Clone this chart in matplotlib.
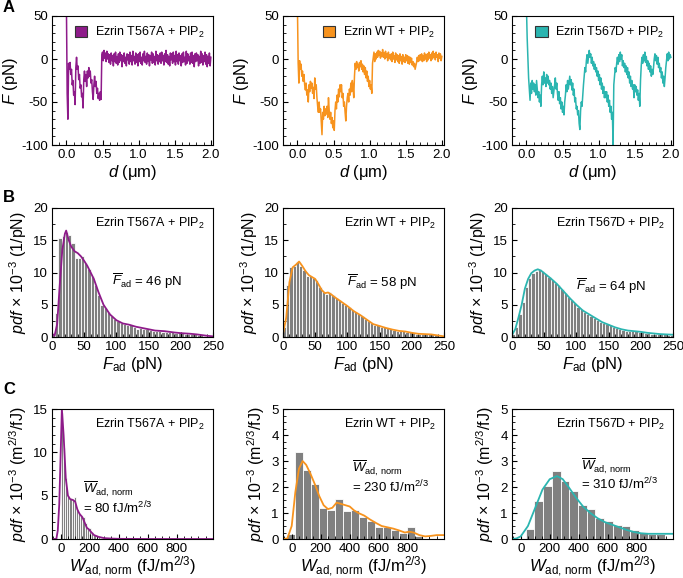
import numpy as np
import matplotlib
matplotlib.use("Agg")
import matplotlib.pyplot as plt
from matplotlib.patches import Patch
from matplotlib.ticker import MultipleLocator

plt.rcParams['font.family'] = ['Liberation Sans', 'DejaVu Sans']
plt.rcParams['mathtext.fontset'] = 'custom'
plt.rcParams['mathtext.rm'] = 'Liberation Sans'
plt.rcParams['mathtext.it'] = 'Liberation Sans:italic'
plt.rcParams['mathtext.bf'] = 'Liberation Sans:bold'
plt.rcParams['mathtext.fallback'] = 'cm'
plt.rcParams['axes.unicode_minus'] = False

# ---------------- data ----------------
names = ["Ezrin T567A + PIP$_2$", "Ezrin WT + PIP$_2$", "Ezrin T567D + PIP$_2$"]
colors = ["#8E1B8A", "#F7931E", "#2BB5B0"]

# Panel A: force traces sampled every 0.01 um from 0 to 2.0 um
d_um = np.linspace(0, 2.0, 201)
force_T567A = [
    60, -40, -70, -5, -12, -4, -18, -12, -30, -25,
    -42, -38, -53, -10, 2, -12, -8, -24, -18, -34,
    -30, -44, -40, -57, -24, -14, -26, -18, -32, -14,
    -22, -10, -20, -14, -28, -24, -38, -47, -30, -20,
    -32, -26, -40, -34, -46, -40, -48, -38, -47, 5,
    8, -2, 10, 1, 7, -3, 9, 0, 6, -4,
    5, -6, 7, -2, 4, -8, 6, -3, 8, -5,
    3, -7, 6, -4, 8, -2, 5, -9, 4, -3,
    7, -5, 2, -8, 6, -1, 5, -6, 8, -3,
    4, -7, 9, -2, 3, -6, 7, -4, 5, -8,
    6, -3, 8, -5, 2, -7, 6, -2, 9, -4,
    3, -6, 7, -3, 5, -8, 4, -1, 8, -5,
    6, -4, 3, -7, 9, -2, 5, -6, 4, -3,
    7, -5, 8, -2, 4, -7, 6, -3, 10, -4,
    5, -6, 3, -8, 7, -1, 6, -5, 8, -3,
    4, -7, 9, -3, 5, -6, 7, -2, 4, -8,
    6, -4, 8, -3, 2, -7, 9, -5, 6, -2,
    3, -6, 7, -4, 8, -5, 4, -9, 6, -3,
    7, -2, 5, -8, 3, -5, 9, -4, 6, -7,
    4, -3, 8, -6, 5, -9, 3, -5, 7, -8,
    2]
force_WT = [
    60, -5, -28, -2, -12, -6, -20, -14, -26, -18,
    -30, -36, -28, -42, -36, -50, -30, -38, -26, -34,
    -28, -40, -33, -46, -22, -35, -30, -45, -55, -62,
    -50, -62, -58, -72, -88, -62, -70, -55, -66, -58,
    -64, -55, -68, -45, -60, -70, -62, -75, -68, -80,
    -72, -83, -60, -50, -58, -42, -50, -35, -44, -30,
    -38, -30, -45, -40, -55, -50, -62, -72, -55, -45,
    -40, -50, -35, -42, -28, -38, -25, -32, -45, -20,
    -5, -12, -3, -10, -6, -14, -4, -9, -2, -12,
    -6, -15, -8, -18, -10, -22, -14, -26, -20, -32,
    -25, -35, -30, -40, -5, 2, 8, -3, 6, 0,
    8, 2, 10, 4, 9, 1, 7, 3, 11, 2,
    7, 0, 9, 2, 6, -2, 8, 1, 5, -1,
    6, -3, 8, 0, 4, -4, 7, -1, 5, -3,
    4, -5, 6, -2, 3, -6, 5, -3, 2, -4,
    5, -2, 4, -5, 3, -6, 2, -4, 1, -7,
    -3, -9, -5, -12, -8, -4, 2, -3, 4, -2,
    5, -1, 6, -3, 4, -2, 7, 0, 5, -3,
    6, -1, 8, 1, 5, -2, 7, 0, 9, 2,
    6, -1, 8, 2, 5, -3, 7, 1, 6, -2,
    3]
force_T567D = [
    60, 25, 0, -22, -35, -48, -28, -40, -25, -35,
    -28, -38, -30, -42, -25, -35, -45, -38, -50, -42,
    -55, -30, -20, -30, -15, -28, -22, -32, -18, -28,
    -20, -30, -25, -35, -28, -40, -32, -45, -38, -30,
    -22, -35, -28, -40, -48, -38, -52, -45, -58, -50,
    -62, -55, -65, -50, -42, -30, -38, -25, -35, -28,
    -20, -30, -24, -36, -28, -42, -35, -50, -45, -58,
    -55, -65, -60, -75, -82, -60, -50, -55, -42, -30,
    -20, -10, -15, -2, 5, -5, 3, 10, 2, 6,
    -5, 2, -8, -3, -12, -6, -15, -10, -20, -14,
    -25, -18, -30, -22, -35, -28, -40, -32, -45, -38,
    -45, -38, -50, -42, -55, -48, -62, -55, -70, -62,
    -100, -30, -20, -10, -15, -5, 2, -6, 5, -3,
    8, 0, 5, -8, -2, -10, -5, -15, -8, -18,
    -10, -22, -15, -28, -20, -32, -25, -35, -30, -45,
    -30, -38, -32, -42, -36, -48, -40, -55, -25, -8,
    2, -5, 5, -2, 8, -4, 3, -8, -2, -12,
    -5, -15, -8, -20, -12, -18, -10, 0, 6, -2,
    4, -6, 2, -10, -5, -15, -10, -22, -15, -28,
    -20, -32, -22, -10, -2, 6, -2, 8, 0, 5,
    2]
traces = [force_T567A, force_WT, force_T567D]

# Panel B: adhesion force histograms, 5 pN bins from 0 to 250 pN
F_bin_left = np.arange(0, 250, 5)
pdfF_T567A = [0.3, 3.7, 15.3, 15.6, 16.3, 15.8, 14.5, 12.2, 12.3, 12.5,
              11.5, 10.5, 9.5, 8.0, 6.5, 5.0, 4.5, 3.8, 3.2, 2.8,
              2.5, 2.2, 2.0, 1.9, 1.8, 1.5, 1.3, 1.4, 1.3, 1.2,
              1.1, 1.0, 0.9, 0.9, 0.8, 0.8, 0.7, 0.7, 0.6, 0.7,
              0.6, 0.5, 0.5, 0.4, 0.5, 0.3, 0.3, 0.2, 0.2, 0.1]
pdfF_WT = [1.5, 8.0, 10.8, 11.0, 11.6, 11.0, 10.4, 9.5, 9.4, 9.2,
           8.8, 7.8, 7.0, 6.6, 6.9, 6.5, 6.1, 5.7, 5.3, 5.0,
           4.7, 4.2, 3.8, 3.6, 3.2, 2.8, 2.5, 2.2, 1.9, 1.8,
           1.6, 1.5, 1.4, 1.2, 1.1, 1.0, 0.9, 0.9, 0.8, 0.7,
           0.6, 0.5, 0.5, 0.5, 0.4, 0.4, 0.4, 0.3, 0.2, 0.1]
pdfF_T567D = [0.5, 1.5, 3.5, 5.5, 7.8, 9.2, 9.9, 10.3, 10.5, 10.2,
              9.8, 9.3, 8.9, 8.4, 8.0, 7.4, 6.8, 6.2, 5.7, 5.2,
              4.7, 4.3, 3.9, 3.6, 3.3, 3.0, 2.7, 2.4, 2.2, 2.0,
              1.8, 1.6, 1.4, 1.3, 1.1, 1.0, 0.95, 0.9, 0.9, 0.8,
              0.7, 0.6, 0.6, 0.5, 0.5, 0.4, 0.4, 0.4, 0.3, 0.3]
pdfF_list = [pdfF_T567A, pdfF_WT, pdfF_T567D]

kdeF_T567A_x = [0, 4, 8, 12, 16, 20, 22, 26, 30, 35, 40, 45, 50, 55, 60, 65, 72, 80, 90, 100,
                110, 120, 130, 140, 150, 160, 175, 190, 200, 215, 225, 240, 250]
kdeF_T567A_y = [0.5, 0.2, 2.0, 8.0, 13.5, 16.0, 16.5, 15.0, 14.0, 13.3, 13.0, 12.5, 11.8, 11.0,
                10.0, 9.0, 7.0, 5.0, 3.5, 2.6, 2.1, 1.9, 1.6, 1.4, 1.2, 1.0, 0.9, 0.7, 0.6, 0.5,
                0.4, 0.2, 0.1]
kdeF_WT_x = [0, 5, 10, 15, 20, 25, 30, 35, 40, 45, 50, 55, 60, 65, 70, 75, 80, 90, 100, 110,
             120, 130, 140, 150, 160, 170, 180, 190, 200, 210, 220, 230, 240, 250]
kdeF_WT_y = [0.5, 3.0, 8.5, 10.8, 11.2, 11.7, 11.0, 10.2, 9.6, 9.3, 9.0, 8.2, 7.3, 6.8, 6.9,
             6.6, 6.2, 5.5, 4.8, 4.0, 3.4, 2.7, 2.0, 1.7, 1.4, 1.15, 0.95, 0.85, 0.65, 0.5,
             0.45, 0.4, 0.25, 0.1]
kdeF_T567D_x = [0, 5, 10, 15, 20, 25, 30, 35, 40, 45, 50, 60, 70, 80, 90, 100, 110, 120, 130,
                140, 150, 160, 170, 180, 190, 200, 210, 220, 230, 240, 250]
kdeF_T567D_y = [0.3, 1.2, 3.0, 5.0, 7.5, 9.0, 9.9, 10.3, 10.5, 10.3, 9.9, 9.1, 8.2, 7.1, 6.0,
                5.0, 4.1, 3.5, 2.9, 2.3, 1.9, 1.5, 1.2, 1.0, 0.9, 0.8, 0.65, 0.55, 0.45, 0.4, 0.35]
kdeF = [(kdeF_T567A_x, kdeF_T567A_y), (kdeF_WT_x, kdeF_WT_y), (kdeF_T567D_x, kdeF_T567D_y)]
meanF = [46, 58, 64]

# Panel C: normalized adhesion work histograms
W_T567A_edges = np.arange(0, 331, 15)
pdfW_T567A = [14.5, 10.5, 7.0, 5.0, 4.6, 4.5, 4.8, 3.5, 3.0, 2.8, 2.5,
              1.8, 1.2, 1.3, 0.8, 0.5, 0.3, 0.2, 0.15, 0.1, 0.1, 0.05]
W_WT_edges = [-30, 25, 80, 135, 190, 245, 300, 355, 410, 465, 520, 575, 630, 685, 740, 795, 850, 905]
pdfW_WT = [0.2, 3.35, 2.65, 2.1, 1.18, 1.12, 1.55, 1.07, 1.12, 0.85, 0.7, 0.45, 0.45, 0.35,
           0.25, 0.45, 0.1]
W_T567D_edges = np.arange(35, 1000, 60)
pdfW_T567D = [0.4, 1.47, 2.05, 2.6, 2.25, 1.85, 1.3, 1.15, 0.8, 0.7, 0.55, 0.5, 0.35, 0.25,
              0.2, 0.2]
pdfW_list = [(W_T567A_edges, pdfW_T567A), (W_WT_edges, pdfW_WT), (W_T567D_edges, pdfW_T567D)]

kdeW_T567A_x = [-60, -30, -20, -10, 0, 8, 20, 35, 50, 65, 85, 100, 115, 130, 150, 165, 180,
                195, 210, 230, 260, 300, 350, 400, 600, 1050]
kdeW_T567A_y = [0, 0, 1.0, 4.0, 10.0, 15.0, 12.0, 7.0, 5.0, 4.6, 4.5, 4.3, 3.4, 2.9, 2.5, 1.9,
                1.3, 1.1, 0.8, 0.45, 0.25, 0.1, 0.05, 0.02, 0.0, 0.0]
kdeW_WT_x = [-60, -30, 0, 25, 50, 75, 100, 130, 160, 190, 220, 250, 280, 310, 340, 370, 400,
             430, 460, 500, 540, 580, 620, 660, 700, 740, 780, 810, 840, 880, 920, 960, 1000, 1050]
kdeW_WT_y = [0, 0.02, 0.5, 1.8, 2.7, 3.0, 2.85, 2.5, 2.1, 1.65, 1.3, 1.15, 1.2, 1.4, 1.35,
             1.3, 1.25, 1.1, 1.0, 0.9, 0.75, 0.62, 0.5, 0.45, 0.4, 0.33, 0.25, 0.28, 0.25,
             0.15, 0.1, 0.12, 0.15, 0.15]
kdeW_T567D_x = [-60, -30, 0, 50, 100, 150, 200, 250, 290, 330, 380, 430, 480, 530, 580, 630,
                680, 730, 780, 830, 880, 930, 1000, 1050]
kdeW_T567D_y = [0, 0.02, 0.1, 0.5, 1.2, 1.9, 2.3, 2.42, 2.3, 2.0, 1.6, 1.25, 1.0, 0.8, 0.65,
                0.55, 0.45, 0.35, 0.27, 0.22, 0.2, 0.2, 0.2, 0.2]
kdeW = [(kdeW_T567A_x, kdeW_T567A_y), (kdeW_WT_x, kdeW_WT_y), (kdeW_T567D_x, kdeW_T567D_y)]
meanW = [80, 230, 310]
W_ymax = [15, 5, 5]

# ---------------- layout ----------------
W, H = 683, 578
fig = plt.figure(figsize=(W / 100, H / 100), dpi=100)
lefts = [52, 283, 512]
aw = 161
rows = [(16, 145), (208, 337), (409, 539)]

def make_ax(col, row):
    top, bot = rows[row]
    ax = fig.add_axes([lefts[col] / W, 1 - bot / H, aw / W, (bot - top) / H])
    ax.tick_params(direction='in', which='both', labelsize=9.5, top=False, right=False,
                   pad=3)
    ax.tick_params(which='major', length=3.5, width=0.8)
    ax.tick_params(which='minor', length=2, width=0.6)
    for s in ax.spines.values():
        s.set_linewidth(0.8)
    return ax

lab_fs = 12
for c in range(3):
    # Row A
    ax = make_ax(c, 0)
    ax.plot(d_um, traces[c], color=colors[c], lw=1.1)
    ax.set_xlim(-0.2, 2.03)
    ax.set_ylim(-100, 50)
    ax.set_xticks([0, 0.5, 1.0, 1.5, 2.0])
    ax.set_xticklabels(["0.0", "0.5", "1.0", "1.5", "2.0"])
    ax.set_yticks([-100, -50, 0, 50])
    ax.xaxis.set_minor_locator(MultipleLocator(0.1))
    ax.yaxis.set_minor_locator(MultipleLocator(10))
    ax.set_xlabel("$d$ (μm)", fontsize=lab_fs, labelpad=1)
    ax.set_ylabel("$F$ (pN)", fontsize=lab_fs, labelpad=1)
    ax.legend(handles=[Patch(facecolor=colors[c], edgecolor='#333333', lw=0.8)],
              labels=[names[c]], loc='upper right', frameon=False, fontsize=9,
              handlelength=1.0, handleheight=1.0, handletextpad=0.6,
              borderaxespad=0.3)

    # Row B
    ax = make_ax(c, 1)
    ax.bar(F_bin_left, pdfF_list[c], width=5, align='edge', color='#808080',
           edgecolor='white', linewidth=0.6)
    kx, ky = kdeF[c]
    ax.plot(kx, ky, color=colors[c], lw=1.3)
    ax.set_xlim(0, 250)
    ax.set_ylim(0, 20)
    ax.set_xticks([0, 50, 100, 150, 200, 250])
    ax.set_yticks([0, 5, 10, 15, 20])
    ax.xaxis.set_minor_locator(MultipleLocator(10))
    ax.yaxis.set_minor_locator(MultipleLocator(2.5))
    ax.set_xlabel("$F_{\\rm ad}$ (pN)", fontsize=lab_fs, labelpad=1)
    ax.set_ylabel("$pdf\\,\\times\\,10^{-3}$ (1/pN)", fontsize=lab_fs - 0.5, labelpad=3)
    ax.text(0.95, 0.88, names[c], transform=ax.transAxes, ha='right', va='center',
            fontsize=9)
    mx = [0.37, 0.40, 0.40][c]
    my = [0.43, 0.42, 0.39][c]
    ax.text(mx, my, "$\\overline{F}_{\\rm ad}$ = %d pN" % meanF[c], transform=ax.transAxes,
            ha='left', va='center', fontsize=9.5)

    # Row C
    ax = make_ax(c, 2)
    edges, vals = pdfW_list[c]
    edges = np.asarray(edges, dtype=float)
    ax.bar(edges[:-1], vals, width=np.diff(edges), align='edge', color='#808080',
           edgecolor='white', linewidth=0.6)
    kx, ky = kdeW[c]
    ax.plot(kx, ky, color=colors[c], lw=1.3)
    ax.set_xlim(-60, 1050)
    ax.set_ylim(0, W_ymax[c])
    ax.set_xticks([0, 200, 400, 600, 800])
    ax.xaxis.set_minor_locator(MultipleLocator(50))
    if W_ymax[c] == 15:
        ax.set_yticks([0, 5, 10, 15])
        ax.yaxis.set_minor_locator(MultipleLocator(1))
    else:
        ax.set_yticks([0, 1, 2, 3, 4, 5])
        ax.yaxis.set_minor_locator(MultipleLocator(0.25))
    ax.set_xlabel("$W_{\\rm ad,\\,norm}$ (fJ/m$^{2/3}$)", fontsize=lab_fs, labelpad=0)
    ax.set_ylabel("$pdf\\,\\times\\,10^{-3}$ (m$^{2/3}$/fJ)", fontsize=lab_fs - 0.5, labelpad=3)
    ax.text(0.95, 0.88, names[c], transform=ax.transAxes, ha='right', va='center',
            fontsize=9)
    tx = [0.19, 0.43, 0.43][c]
    ty1 = [0.38, 0.54, 0.56][c]
    ty2 = [0.24, 0.40, 0.42][c]
    ax.text(tx, ty1, "$\\overline{W}_{\\rm ad,\\,norm}$", transform=ax.transAxes,
            ha='left', va='center', fontsize=9.5)
    ax.text(tx, ty2, "= %d fJ/m$^{2/3}$" % meanW[c], transform=ax.transAxes,
            ha='left', va='center', fontsize=9.5)

for lbl, y in zip("ABC", [8, 198, 390]):
    fig.text(3 / W, 1 - y / H, lbl, fontsize=12, fontweight='bold', ha='left', va='center')

fig.savefig("out.png", dpi=100)
